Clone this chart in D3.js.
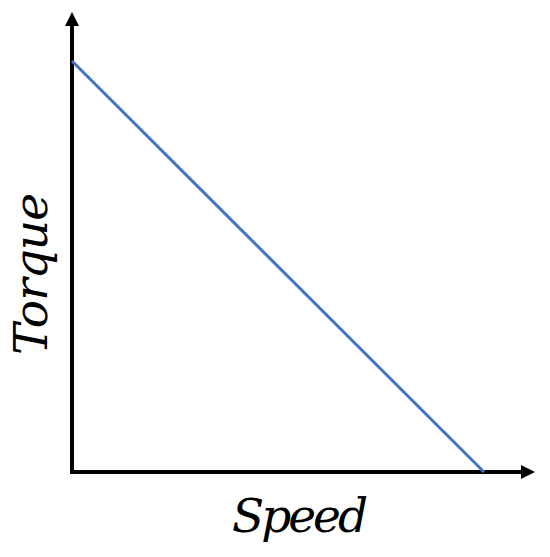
<!DOCTYPE html>
<html>
<head>
<meta charset="utf-8">
<script src="https://cdn.jsdelivr.net/npm/d3@7"></script>
<style>
  body { margin: 0; background: #fff; }
  svg { display: block; }
</style>
</head>
<body>
<svg id="chart" width="550" height="557"></svg>
<script>
// torque falls linearly from stall to no-load speed
const speed = [0, 1];
const torque = [1, 0];
const xLabel = 'Speed';
const yLabel = 'Torque';

const width = 550, height = 557;
const margin = { left: 72, bottom: 85 };
const svg = d3.select('#chart');

const x = d3.scaleLinear().domain([0, 1]).range([margin.left, 484]);
const y = d3.scaleLinear().domain([0, 1]).range([height - margin.bottom, 61]);

// arrow heads for both axes
svg.append('defs').append('marker')
    .attr('id', 'arrow')
    .attr('viewBox', '0 0 14 14')
    .attr('refX', 0).attr('refY', 7)
    .attr('markerWidth', 14).attr('markerHeight', 14)
    .attr('markerUnits', 'userSpaceOnUse')
    .attr('orient', 'auto')
    .append('path')
    .attr('d', 'M0,0 L14,7 L0,14 Z')
    .attr('fill', '#000');

const x0 = x(0), y0 = y(0);

// axes drawn as plain lines with arrows
svg.append('line')
    .attr('x1', x0 - 2).attr('y1', y0)
    .attr('x2', 521).attr('y2', y0)
    .attr('stroke', '#000').attr('stroke-width', 4)
    .attr('marker-end', 'url(#arrow)');

svg.append('line')
    .attr('x1', x0).attr('y1', y0 + 2)
    .attr('x2', x0).attr('y2', 26)
    .attr('stroke', '#000').attr('stroke-width', 4)
    .attr('marker-end', 'url(#arrow)');

// torque-speed line
svg.append('path')
    .datum(speed.map((s, i) => ({ s: s, t: torque[i] })))
    .attr('fill', 'none')
    .attr('stroke', '#4472C4')
    .attr('stroke-width', 3)
    .attr('d', d3.line()
        .x((d) => { return x(d.s); })
        .y((d) => { return y(d.t); }));

// axis titles
svg.append('text')
    .attr('x', 300).attr('y', 532)
    .attr('text-anchor', 'middle')
    .attr('font-family', 'DejaVu Serif')
    .attr('font-style', 'italic')
    .attr('font-size', 47)
    .attr('textLength', 136)
    .attr('fill', '#000')
    .text(xLabel);

svg.append('text')
    .attr('transform', 'translate(47,274) rotate(-90)')
    .attr('text-anchor', 'middle')
    .attr('font-family', 'DejaVu Serif')
    .attr('font-style', 'italic')
    .attr('font-size', 47)
    .attr('textLength', 162)
    .attr('fill', '#000')
    .text(yLabel);
</script>
</body>
</html>
